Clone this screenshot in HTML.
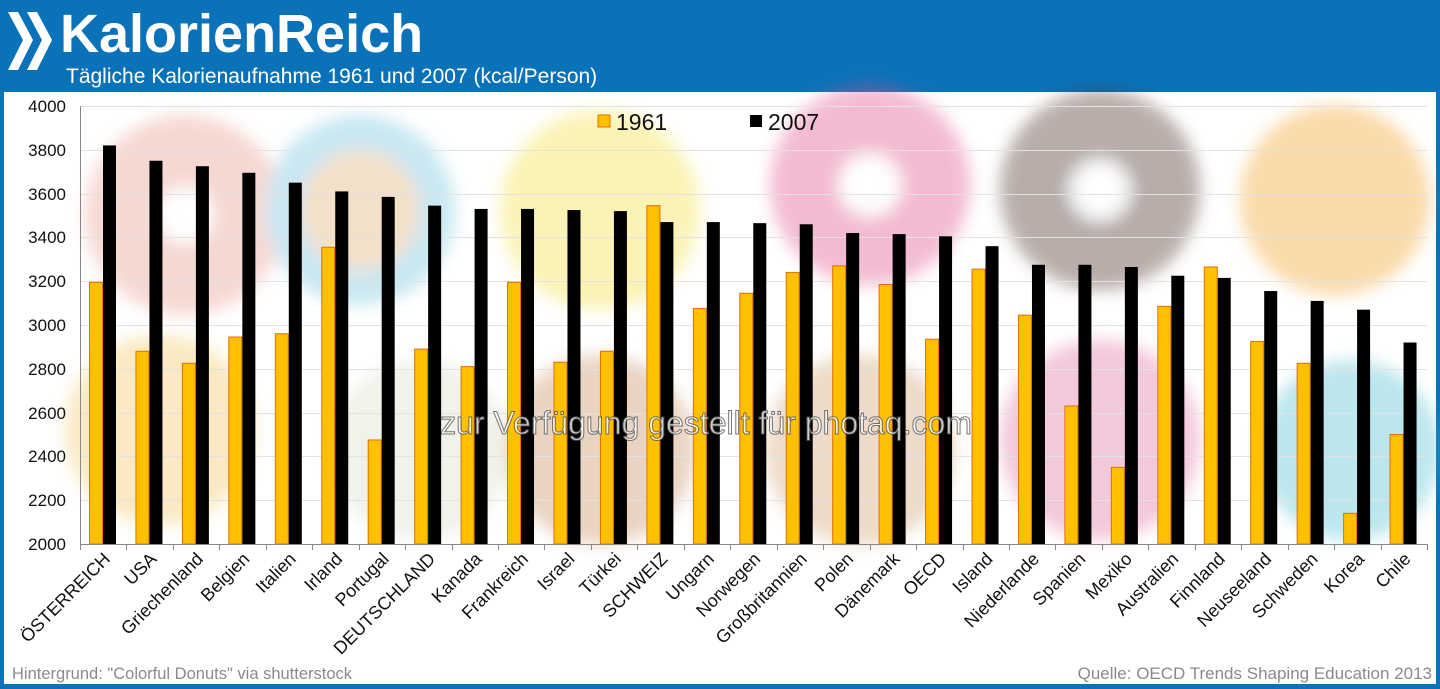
<!DOCTYPE html>
<html><head><meta charset="utf-8"><style>
html,body{margin:0;padding:0;background:#0a72b9;}
svg{display:block}
text{font-family:"Liberation Sans",Arial,sans-serif}
</style></head><body>
<svg width="1440" height="689" viewBox="0 0 1440 689" xmlns="http://www.w3.org/2000/svg">
<defs>
<filter id="bl" x="-50%" y="-50%" width="200%" height="200%"><feGaussianBlur stdDeviation="8"/></filter>
</defs>
<rect x="0" y="0" width="1440" height="689" fill="#0a72b9"/>
<rect x="4" y="92" width="1432" height="592" fill="#ffffff"/>
<polygon points="8,12 18,12 33,40 18,70 8,70 23,40" fill="#fff"/>
<polygon points="27,12 37,12 52,40 37,70 27,70 42,40" fill="#fff"/>
<text x="60" y="52" font-size="54" font-weight="bold" fill="#fff">KalorienReich</text>
<text x="66" y="83" font-size="21" fill="#fff">Tägliche Kalorienaufnahme 1961 und 2007 (kcal/Person)</text>
<g filter="url(#bl)" opacity="0.38">
<circle cx="185" cy="215" r="100" fill="#e89a8a"/><circle cx="185" cy="215" r="28" fill="#fff"/>
<circle cx="360" cy="210" r="95" fill="#6fc3dc"/><circle cx="360" cy="210" r="60" fill="#e0b070"/>
<circle cx="600" cy="210" r="100" fill="#f4e040"/>
<circle cx="870" cy="185" r="100" fill="#e0508a"/><circle cx="870" cy="185" r="30" fill="#fff"/>
<circle cx="1100" cy="190" r="100" fill="#4a2a20"/><circle cx="1100" cy="190" r="28" fill="#fff"/>
<circle cx="1335" cy="200" r="95" fill="#f2a020"/>
<circle cx="160" cy="430" r="95" fill="#f2c860"/>
<circle cx="420" cy="450" r="90" fill="#d8e0c8"/>
<circle cx="600" cy="450" r="95" fill="#c89060"/>
<circle cx="860" cy="450" r="95" fill="#d0a070"/>
<circle cx="1100" cy="440" r="100" fill="#e070a0"/>
<circle cx="1350" cy="450" r="90" fill="#50c0d0"/>
</g>
<g stroke="#e2e2e2" stroke-width="1">
<line x1="80" x2="1427" y1="106.5" y2="106.5"/><line x1="80" x2="1427" y1="150.5" y2="150.5"/>
<line x1="80" x2="1427" y1="194.5" y2="194.5"/><line x1="80" x2="1427" y1="237.5" y2="237.5"/>
<line x1="80" x2="1427" y1="281.5" y2="281.5"/><line x1="80" x2="1427" y1="325.5" y2="325.5"/>
<line x1="80" x2="1427" y1="369.5" y2="369.5"/><line x1="80" x2="1427" y1="413.5" y2="413.5"/>
<line x1="80" x2="1427" y1="456.5" y2="456.5"/><line x1="80" x2="1427" y1="500.5" y2="500.5"/>
</g>
<g id="bars"></g>
<g id="labels"></g>
<line x1="80.5" y1="106" x2="80.5" y2="544" stroke="#888"/>
<line x1="80" y1="544.5" x2="1427" y2="544.5" stroke="#888"/>
<g font-size="17" fill="#111" text-anchor="end">
<text x="66" y="112">4000</text><text x="66" y="156">3800</text><text x="66" y="200">3600</text>
<text x="66" y="243">3400</text><text x="66" y="287">3200</text><text x="66" y="331">3000</text>
<text x="66" y="375">2800</text><text x="66" y="419">2600</text><text x="66" y="462">2400</text>
<text x="66" y="506">2200</text><text x="66" y="550">2000</text>
</g>
<g id="ticks" stroke="#888"></g>
<rect x="598" y="115" width="12" height="12" fill="#ffc000" stroke="#e07000"/>
<text x="616" y="130" font-size="23" fill="#111">1961</text>
<rect x="750" y="115" width="12" height="12" fill="#000"/>
<text x="768" y="130" font-size="23" fill="#111">2007</text>
<text x="706" y="434" font-size="32" text-anchor="middle" fill="#fff" stroke="#555" stroke-width="1" opacity="0.8">zur Verfügung gestellt für photaq.com</text>
<text x="12" y="679" font-size="16.5" fill="#8a8a8a">Hintergrund: "Colorful Donuts" via shutterstock</text>
<text x="1432" y="679" font-size="17" fill="#8a8a8a" text-anchor="end">Quelle: OECD Trends Shaping Education 2013</text>
<script>
var d=[["ÖSTERREICH",3195,3820],["USA",2880,3750],["Griechenland",2825,3725],["Belgien",2945,3695],["Italien",2960,3650],["Irland",3355,3610],["Portugal",2475,3585],["DEUTSCHLAND",2890,3545],["Kanada",2810,3530],["Frankreich",3195,3530],["Israel",2830,3525],["Türkei",2880,3520],["SCHWEIZ",3545,3470],["Ungarn",3075,3470],["Norwegen",3145,3465],["Großbritannien",3240,3460],["Polen",3270,3420],["Dänemark",3185,3415],["OECD",2935,3405],["Island",3255,3360],["Niederlande",3045,3275],["Spanien",2630,3275],["Mexiko",2350,3265],["Australien",3085,3225],["Finnland",3265,3215],["Neuseeland",2925,3155],["Schweden",2825,3110],["Korea",2140,3070],["Chile",2500,2920]];
var ns="http://www.w3.org/2000/svg",B=document.getElementById("bars"),L=document.getElementById("labels"),T=document.getElementById("ticks");
function y(v){return 544-(v-2000)*0.219;}
function el(p,t,a){var e=document.createElementNS(ns,t);for(var k in a)e.setAttribute(k,a[k]);p.appendChild(e);return e;}
var w=(1427-80)/29;
for(var i=0;i<=29;i++){var tx=Math.round(80+i*w)+0.5;el(T,"line",{x1:tx,x2:tx,y1:544,y2:550});}
d.forEach(function(r,i){var x0=80+i*w;
el(B,"rect",{x:x0+9.5,y:y(r[1]),width:13,height:544-y(r[1]),fill:"#ffc000",stroke:"#e07000","stroke-width":1});
el(B,"rect",{x:x0+23,y:y(r[2]),width:13,height:544-y(r[2]),fill:"#000"});
var cx=x0+w/2+8;var t=el(L,"text",{x:cx,y:560,"font-size":18,fill:"#111","text-anchor":"end",transform:"rotate(-45 "+cx+" 560)"});t.textContent=r[0];});
</script>
</svg>
</body></html>
